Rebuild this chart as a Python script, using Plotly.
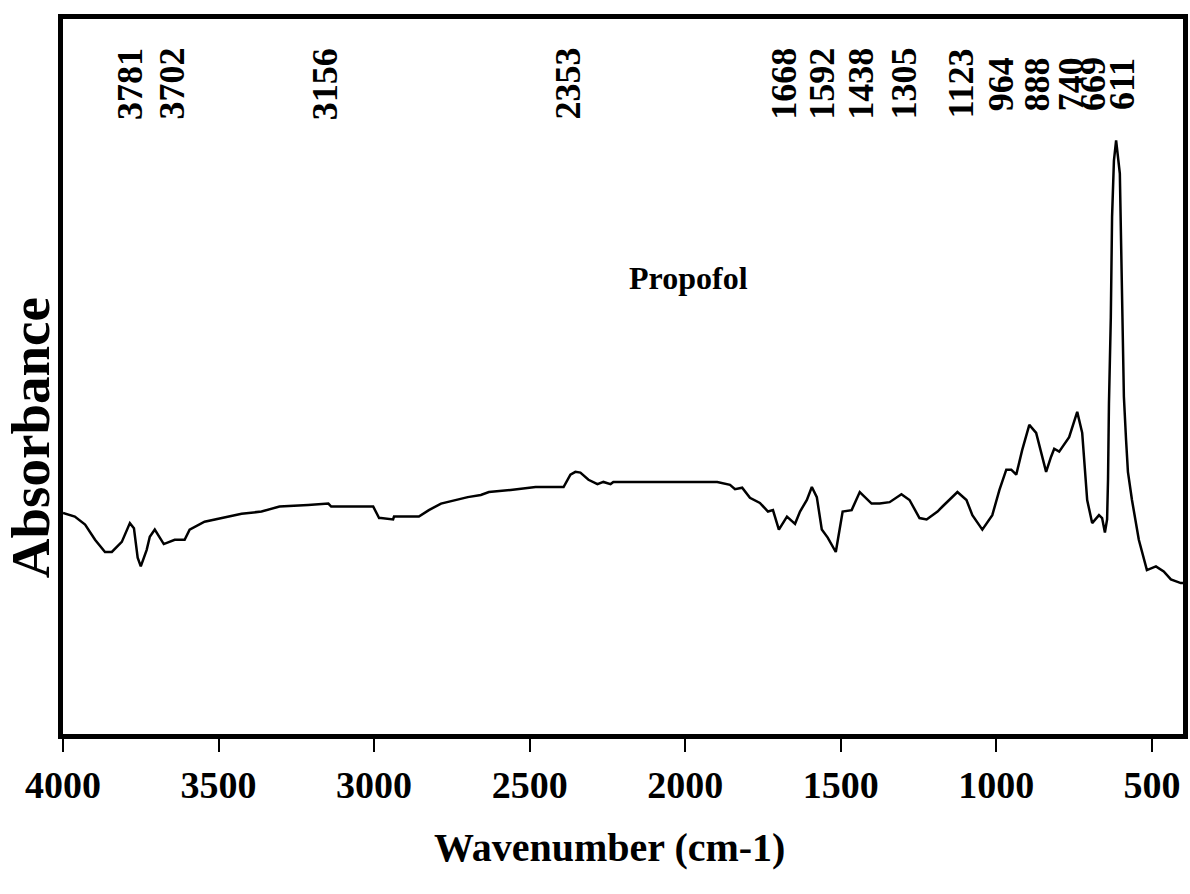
import plotly.graph_objects as go

# Spectrum (wavenumber cm-1, absorbance in arbitrary units)
wavenumber = [4000, 3962, 3929, 3897, 3865, 3843, 3811, 3785, 3772, 3760, 3750, 3731, 3721, 3705,
              3676, 3641, 3609, 3593, 3545, 3490, 3426, 3362, 3304, 3212, 3147, 3138, 3003, 2984,
              2978, 2939, 2936, 2856, 2824, 2785, 2737, 2699, 2657, 2631, 2561, 2481, 2391, 2369,
              2353, 2337, 2311, 2282, 2263, 2240, 2231, 1984, 1942, 1897, 1856, 1840, 1817, 1792,
              1760, 1734, 1718, 1699, 1673, 1647, 1631, 1609, 1593, 1577, 1561, 1542, 1516, 1494,
              1465, 1439, 1401, 1375, 1343, 1305, 1279, 1247, 1224, 1189, 1173, 1125, 1096, 1077,
              1045, 1013, 990, 968, 952, 936, 917, 894, 872, 840, 824, 814, 798, 766, 740, 724,
              708, 692, 670, 660, 651, 644, 641, 638, 632, 628, 622, 615, 603, 599, 596, 590, 583,
              577, 564, 542, 516, 487, 462, 439, 407, 397]
absorbance = [0.311, 0.306, 0.295, 0.274, 0.257, 0.257, 0.271, 0.297, 0.290, 0.249, 0.237, 0.260,
              0.278, 0.288, 0.268, 0.274, 0.274, 0.288, 0.299, 0.304, 0.310, 0.313, 0.320, 0.322,
              0.324, 0.320, 0.320, 0.304, 0.304, 0.302, 0.306, 0.306, 0.315, 0.324, 0.329, 0.333,
              0.336, 0.340, 0.343, 0.347, 0.347, 0.364, 0.368, 0.367, 0.357, 0.351, 0.354, 0.351,
              0.354, 0.354, 0.353, 0.354, 0.350, 0.344, 0.346, 0.332, 0.325, 0.313, 0.315, 0.288,
              0.306, 0.296, 0.313, 0.329, 0.347, 0.333, 0.288, 0.277, 0.257, 0.313, 0.315, 0.340,
              0.324, 0.324, 0.326, 0.337, 0.329, 0.304, 0.302, 0.313, 0.320, 0.340, 0.329, 0.308,
              0.288, 0.308, 0.343, 0.371, 0.371, 0.364, 0.398, 0.433, 0.422, 0.368, 0.389, 0.400,
              0.396, 0.416, 0.451, 0.422, 0.329, 0.297, 0.308, 0.304, 0.284, 0.302, 0.357, 0.463,
              0.582, 0.721, 0.799, 0.827, 0.781, 0.678, 0.575, 0.472, 0.412, 0.368, 0.329, 0.274,
              0.232, 0.237, 0.230, 0.219, 0.214, 0.214]

# Peak labels and where they are written along the x axis
peak_labels = ["3781", "3702", "3156", "2353", "1668", "1592", "1438", "1305", "1123",
               "964", "888", "740", "669", "611"]
peak_label_pos = [3785, 3651, 3157, 2378, 1683, 1561, 1436, 1298, 1115, 984, 868, 759, 689, 596]

tick_vals = [4000, 3500, 3000, 2500, 2000, 1500, 1000, 500]
tick_text = ["4000", "3500", "3000", "2500", "2000", "1500", "1000", "500"]

FONT = "Liberation Serif, Times New Roman, serif"

fig = go.Figure()
fig.add_trace(go.Scatter(x=wavenumber, y=absorbance, mode="lines",
                         line=dict(color="black", width=2.5), showlegend=False,
                         hoverinfo="skip"))

for lab, pos in zip(peak_labels, peak_label_pos):
    fig.add_annotation(x=pos, y=0.905, xref="x", yref="y", text="<b>%s</b>" % lab,
                       textangle=-90, showarrow=False, xanchor="center", yanchor="middle",
                       font=dict(family=FONT, size=36, color="black"))

fig.add_annotation(x=1990, y=0.636, xref="x", yref="y", text="<b>Propofol</b>",
                   showarrow=False, font=dict(family=FONT, size=32, color="black"))

fig.add_annotation(x=0.488, y=-0.159, xref="paper", yref="paper",
                   text="<b>Wavenumber (cm-1)</b>", showarrow=False,
                   xanchor="center", yanchor="middle",
                   font=dict(family=FONT, size=40, color="black"))

fig.add_annotation(x=-0.0295, y=0.415, xref="paper", yref="paper",
                   text="<b>Absorbance</b>", textangle=-90, showarrow=False,
                   xanchor="center", yanchor="middle",
                   font=dict(family=FONT, size=55, color="black"))

fig.update_layout(
    width=1190, height=894,
    margin=dict(l=63, r=7, t=19, b=160, autoexpand=False),
    paper_bgcolor="white", plot_bgcolor="white",
    xaxis=dict(range=[4000, 400], tickvals=tick_vals, ticktext=tick_text,
               showgrid=False, zeroline=False, showline=True, linecolor="black",
               linewidth=5, mirror=True, ticks="outside", ticklen=13, tickwidth=2,
               tickcolor="black",
               tickfont=dict(family=FONT, size=38, color="black", weight="bold")),
    yaxis=dict(range=[0.005, 0.995], showgrid=False, zeroline=False, showline=True,
               linecolor="black", linewidth=5, mirror=True, showticklabels=False,
               ticks=""),
)

fig.write_html("out.html")
